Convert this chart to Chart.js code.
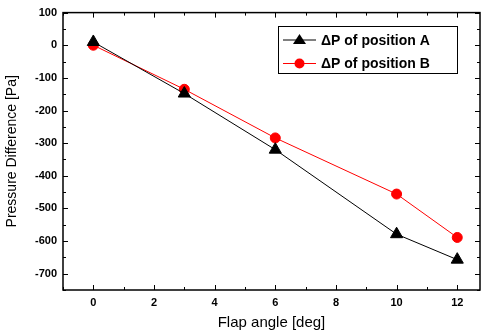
<!DOCTYPE html>
<html>
<head>
<meta charset="utf-8">
<script src="https://cdn.jsdelivr.net/npm/chart.js@4/dist/chart.umd.min.js"></script>
<style>
  html, body { margin: 0; padding: 0; background: #fff; }
  #wrap { width: 488px; height: 336px; }
</style>
</head>
<body>
<div id="wrap"><canvas id="myChart" width="488" height="336"></canvas></div>
<script>
const flapAngles = [0, 3, 6, 10, 12];
const posA = [10, -148, -320, -579, -657];
const posB = [0, -135, -284, -456, -589];
const xTicks = [0, 2, 4, 6, 8, 10, 12];
const yTicks = [100, 0, -100, -200, -300, -400, -500, -600, -700];

const boldTick = { family: 'Liberation Sans, Arial, sans-serif', size: 11, weight: 'bold' };

// frame, inward ticks and boxed legend inside the plot
const framePlugin = {
  id: 'frame',
  afterDraw(chart) {
    const ctx = chart.ctx, a = chart.chartArea;
    const xs = chart.scales.x, ys = chart.scales.y;
    ctx.save();
    ctx.strokeStyle = '#000';
    ctx.lineWidth = 1.5;
    ctx.strokeRect(a.left, a.top, a.right - a.left, a.bottom - a.top);
    ctx.lineWidth = 1;
    ctx.beginPath();
    for (let v = -1; v <= 12; v++) {
      let px = Math.round(xs.getPixelForValue(v)) + 0.5;
      let len = v % 2 == 0 ? 5 : 3;
      ctx.moveTo(px, a.bottom); ctx.lineTo(px, a.bottom - len);
      ctx.moveTo(px, a.top); ctx.lineTo(px, a.top + len);
    }
    for (let v = -750; v <= 100; v += 50) {
      let py = Math.round(ys.getPixelForValue(v)) + 0.5;
      let len = v % 100 == 0 ? 5 : 3;
      ctx.moveTo(a.left, py); ctx.lineTo(a.left + len, py);
      ctx.moveTo(a.right, py); ctx.lineTo(a.right - len, py);
    }
    ctx.stroke();

    // legend
    const lx = 278, ly = 26, lw = 179, lh = 47;
    ctx.fillStyle = '#fff';
    ctx.fillRect(lx, ly, lw, lh);
    ctx.strokeStyle = '#000';
    ctx.lineWidth = 1;
    ctx.strokeRect(lx + 0.5, ly + 0.5, lw, lh);
    chart.data.datasets.forEach((ds, i) => {
      const y = 40 + i * 23.5;
      ctx.strokeStyle = ds.borderColor;
      ctx.beginPath(); ctx.moveTo(283, y); ctx.lineTo(316, y); ctx.stroke();
      ctx.fillStyle = ds.pointBackgroundColor;
      if (ds.pointStyle == 'triangle') {
        ctx.beginPath();
        ctx.moveTo(299.5, y - 6); ctx.lineTo(306, y + 4); ctx.lineTo(293, y + 4);
        ctx.closePath(); ctx.fill();
      } else {
        ctx.beginPath(); ctx.arc(299.5, y, 5, 0, Math.PI * 2); ctx.fill();
      }
      ctx.fillStyle = '#000';
      ctx.font = 'bold 14px Liberation Sans, Arial, sans-serif';
      ctx.textBaseline = 'middle';
      ctx.fillText(ds.label, 321, y + 1);
    });
    ctx.restore();
  }
};

const config = {
  type: 'line',
  data: {
    datasets: [{
      label: '\u0394P of position A',
      data: flapAngles.map((x, i) => ({ x: x, y: posA[i] })),
      borderColor: '#000',
      backgroundColor: '#000',
      pointBackgroundColor: '#000',
      pointBorderColor: '#000',
      pointStyle: 'triangle',
      pointRadius: 7,
      borderWidth: 1,
      tension: 0
    }, {
      label: '\u0394P of position B',
      data: flapAngles.map((x, i) => ({ x: x, y: posB[i] })),
      borderColor: '#ff0000',
      backgroundColor: '#ff0000',
      pointBackgroundColor: '#ff0000',
      pointBorderColor: '#ff0000',
      pointStyle: 'circle',
      pointRadius: 5,
      borderWidth: 1,
      tension: 0
    }]
  },
  options: {
    responsive: false,
    animation: false,
    layout: { padding: { top: 3, right: 0, left: 0, bottom: 0 } },
    plugins: { legend: { display: false }, tooltip: { enabled: false } },
    scales: {
      x: {
        type: 'linear',
        min: -1,
        max: 12.75,
        grid: { display: false, drawTicks: false },
        border: { display: false },
        afterBuildTicks: s => { s.ticks = xTicks.map(v => ({ value: v })); },
        afterFit: s => { s.height = 46; },
        ticks: { color: '#000', font: boldTick, padding: 6, maxRotation: 0 },
        title: { display: true, text: 'Flap angle [deg]', color: '#000',
                 font: { family: 'Liberation Sans, Arial, sans-serif', size: 15 }, padding: { top: 2 } }
      },
      y: {
        min: -750,
        max: 100,
        grid: { display: false, drawTicks: false },
        border: { display: false },
        afterBuildTicks: s => { s.ticks = yTicks.map(v => ({ value: v })); },
        afterFit: s => { s.width = 63; },
        ticks: { color: '#000', font: boldTick, padding: 6 },
        title: { display: true, text: 'Pressure Difference [Pa]', color: '#000',
                 font: { family: 'Liberation Sans, Arial, sans-serif', size: 14 }, padding: { bottom: 2 } }
      }
    }
  },
  plugins: [framePlugin]
};

const newChart = new Chart(document.getElementById('myChart'), config);
</script>
</body>
</html>
